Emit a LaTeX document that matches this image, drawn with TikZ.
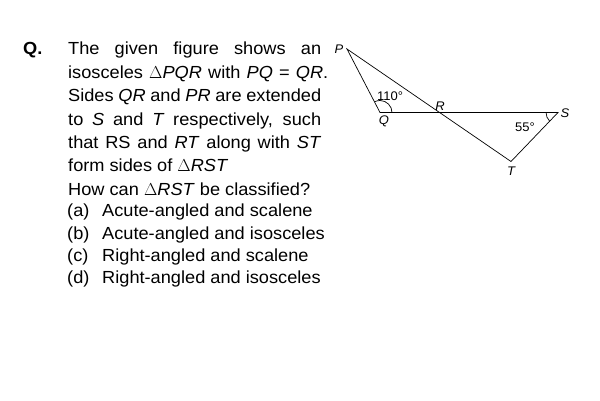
\documentclass[tikz,border=0pt]{standalone}
\usepackage{fontspec}
\setmainfont{Liberation Sans}[FakeStretch=1.04]
\tikzset{
  txt/.style={anchor=base west,inner sep=0pt,font=\fontsize{17.5}{21}\selectfont},
  vlab/.style={inner sep=0pt,font=\fontsize{12.5}{15}\selectfont\itshape},
  ang/.style={inner sep=0pt,font=\fontsize{12.5}{15}\selectfont},
  side/.style={line width=0.7pt}
}
\newcommand{\jline}[1]{\makebox[253pt][s]{#1}}
\begin{document}
\begin{tikzpicture}[x=1pt,y=1pt]
\useasboundingbox (0,0) rectangle (600,400);
\node[txt,font=\fontsize{17.5}{21}\selectfont\bfseries] (q) at (23,345) {Q.};
\node[txt] (l1) at (68,345) {\jline{The given figure shows an}};
\node[txt] (l2) at (68,321.7) {\makebox[260pt][s]{isosceles $\Delta$\textit{PQR} with \textit{PQ} = \textit{QR}.}};
\node[txt] (l3) at (68,298.3) {\jline{Sides \textit{QR} and \textit{PR} are extended}};
\node[txt] (l4) at (68,275) {\jline{to \textit{S} and \textit{T} respectively, such}};
\node[txt] (l5) at (68,251.7) {\jline{that RS and \textit{RT} along with \textit{ST}}};
\node[txt] (l6) at (68,228.3) {form sides of $\Delta$\textit{RST}};
\node[txt] (l7) at (68,205) {How can $\Delta$\textit{RST} be classified?};
\foreach \lab/\opt/\y in {a/Acute-angled and scalene/183.3, b/Acute-angled and isosceles/161,
  c/Right-angled and scalene/139, d/Right-angled and isosceles/117}{
  \node[txt] (o\lab) at (67,\y) {(\lab)};
  \node[txt] (t\lab) at (102,\y) {\opt};
}

\coordinate (P) at (347,351);
\coordinate (Q) at (380,287.5);
\coordinate (S) at (558,287.5);
\coordinate (T) at (511,238.5);
\coordinate (R) at (intersection of P--T and Q--S);
\draw[side] (P) -- (Q) -- (S) -- (T) -- cycle;
\draw[side] (Q) ++(12,0) arc (0:117.5:12);
\draw[side] (S) ++(-12,0) arc (180:226:12);

\node[vlab] (lP) at (339,351) {P};
\node[vlab] (lQ) at (384,279) {Q};
\node[vlab] (lR) at (440,294) {R};
\node[vlab] (lS) at (565,287) {S};
\node[vlab] (lT) at (511,229) {T};
\node[ang] (aQ) at (390,304) {110°};
\node[ang] (aS) at (525,273) {55°};
\end{tikzpicture}
\end{document}
